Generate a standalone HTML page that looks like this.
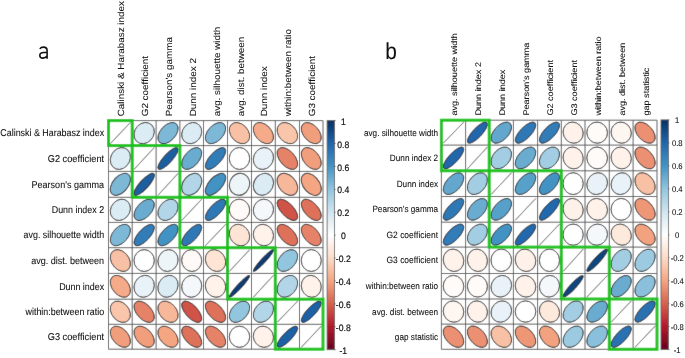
<!DOCTYPE html>
<html><head><meta charset="utf-8"><style>
html,body{margin:0;padding:0;background:#fff;}
body{width:685px;height:358px;overflow:hidden;}
svg{display:block;font-family:"Liberation Sans",sans-serif;font-variant-ligatures:none;font-kerning:none;will-change:transform;text-rendering:geometricPrecision;}
</style></head><body>
<svg width="685" height="358" viewBox="0 0 685 358">
<defs><filter id="bl" x="0" y="0" width="100%" height="100%"><feConvolveMatrix order="3" kernelMatrix="0 1 0 1 8 1 0 1 0" divisor="12" edgeMode="duplicate"/></filter></defs>
<g filter="url(#bl)"><rect width="685" height="358" fill="#fff"/>
<g stroke="#5c5c5c" stroke-width="1"><line x1="108.50" y1="120.60" x2="323.00" y2="120.60"/><line x1="108.50" y1="120.60" x2="108.50" y2="349.20"/><line x1="108.50" y1="145.60" x2="323.00" y2="145.60"/><line x1="132.20" y1="120.60" x2="132.20" y2="349.20"/><line x1="108.50" y1="171.40" x2="323.00" y2="171.40"/><line x1="156.10" y1="120.60" x2="156.10" y2="349.20"/><line x1="108.50" y1="197.30" x2="323.00" y2="197.30"/><line x1="179.90" y1="120.60" x2="179.90" y2="349.20"/><line x1="108.50" y1="222.40" x2="323.00" y2="222.40"/><line x1="203.50" y1="120.60" x2="203.50" y2="349.20"/><line x1="108.50" y1="247.70" x2="323.00" y2="247.70"/><line x1="227.50" y1="120.60" x2="227.50" y2="349.20"/><line x1="108.50" y1="273.40" x2="323.00" y2="273.40"/><line x1="251.50" y1="120.60" x2="251.50" y2="349.20"/><line x1="108.50" y1="299.20" x2="323.00" y2="299.20"/><line x1="275.30" y1="120.60" x2="275.30" y2="349.20"/><line x1="108.50" y1="324.30" x2="323.00" y2="324.30"/><line x1="299.50" y1="120.60" x2="299.50" y2="349.20"/><line x1="108.50" y1="349.20" x2="323.00" y2="349.20"/><line x1="323.00" y1="120.60" x2="323.00" y2="349.20"/></g>
<g stroke="#2a2a2a" stroke-width="1.0"><line x1="110.28" y1="143.72" x2="130.42" y2="122.47" stroke-width="0.8"/><ellipse rx="0.4558" ry="0.3918" fill="#dcecf4" vector-effect="non-scaling-stroke" transform="translate(144.15,133.10) scale(23.90,-25.00) rotate(45)"/><ellipse rx="0.5118" ry="0.3152" fill="#7eb8d7" vector-effect="non-scaling-stroke" transform="translate(168.00,133.10) scale(23.80,-25.00) rotate(45)"/><ellipse rx="0.4558" ry="0.3918" fill="#dcecf4" vector-effect="non-scaling-stroke" transform="translate(191.70,133.10) scale(23.60,-25.00) rotate(45)"/><ellipse rx="0.5118" ry="0.3152" fill="#7eb8d7" vector-effect="non-scaling-stroke" transform="translate(215.50,133.10) scale(24.00,-25.00) rotate(45)"/><ellipse rx="0.3556" ry="0.4846" fill="#f8c0a4" vector-effect="non-scaling-stroke" transform="translate(239.50,133.10) scale(24.00,-25.00) rotate(45)"/><ellipse rx="0.3346" ry="0.4993" fill="#f5aa89" vector-effect="non-scaling-stroke" transform="translate(263.40,133.10) scale(23.80,-25.00) rotate(45)"/><ellipse rx="0.3606" ry="0.4808" fill="#f9c5ab" vector-effect="non-scaling-stroke" transform="translate(287.40,133.10) scale(24.20,-25.00) rotate(45)"/><ellipse rx="0.3237" ry="0.5064" fill="#f19e7d" vector-effect="non-scaling-stroke" transform="translate(311.25,133.10) scale(23.50,-25.00) rotate(45)"/><ellipse rx="0.4558" ry="0.3918" fill="#dcecf4" vector-effect="non-scaling-stroke" transform="translate(120.35,158.50) scale(23.70,-25.80) rotate(45)"/><line x1="133.99" y1="169.47" x2="154.31" y2="147.53" stroke-width="0.8"/><ellipse rx="0.5749" ry="0.1752" fill="#1d5ea1" vector-effect="non-scaling-stroke" transform="translate(168.00,158.50) scale(23.80,-25.80) rotate(45)"/><ellipse rx="0.5205" ry="0.3005" fill="#6aacd0" vector-effect="non-scaling-stroke" transform="translate(191.70,158.50) scale(23.60,-25.80) rotate(45)"/><ellipse rx="0.5541" ry="0.2328" fill="#327cb8" vector-effect="non-scaling-stroke" transform="translate(215.50,158.50) scale(24.00,-25.80) rotate(45)"/><ellipse rx="0.4250" ry="0.4250" fill="#ffffff" vector-effect="non-scaling-stroke" transform="translate(239.50,158.50) scale(24.00,-25.80) rotate(45)"/><ellipse rx="0.4457" ry="0.4032" fill="#e8f2f8" vector-effect="non-scaling-stroke" transform="translate(263.40,158.50) scale(23.80,-25.80) rotate(45)"/><ellipse rx="0.3005" ry="0.5205" fill="#e58268" vector-effect="non-scaling-stroke" transform="translate(287.40,158.50) scale(24.20,-25.80) rotate(45)"/><ellipse rx="0.3237" ry="0.5064" fill="#f19e7d" vector-effect="non-scaling-stroke" transform="translate(311.25,158.50) scale(23.50,-25.80) rotate(45)"/><ellipse rx="0.5118" ry="0.3152" fill="#7eb8d7" vector-effect="non-scaling-stroke" transform="translate(120.35,184.35) scale(23.70,-25.90) rotate(45)"/><ellipse rx="0.5749" ry="0.1752" fill="#1d5ea1" vector-effect="non-scaling-stroke" transform="translate(144.15,184.35) scale(23.90,-25.90) rotate(45)"/><line x1="157.88" y1="195.36" x2="178.12" y2="173.34" stroke-width="0.8"/><ellipse rx="0.4846" ry="0.3556" fill="#b2d5e7" vector-effect="non-scaling-stroke" transform="translate(191.70,184.35) scale(23.60,-25.90) rotate(45)"/><ellipse rx="0.5376" ry="0.2688" fill="#4393c3" vector-effect="non-scaling-stroke" transform="translate(215.50,184.35) scale(24.00,-25.90) rotate(45)"/><ellipse rx="0.4417" ry="0.4076" fill="#edf5f9" vector-effect="non-scaling-stroke" transform="translate(239.50,184.35) scale(24.00,-25.90) rotate(45)"/><ellipse rx="0.4558" ry="0.3918" fill="#dcecf4" vector-effect="non-scaling-stroke" transform="translate(263.40,184.35) scale(23.80,-25.90) rotate(45)"/><ellipse rx="0.3479" ry="0.4901" fill="#f7b89a" vector-effect="non-scaling-stroke" transform="translate(287.40,184.35) scale(24.20,-25.90) rotate(45)"/><ellipse rx="0.3292" ry="0.5029" fill="#f4a582" vector-effect="non-scaling-stroke" transform="translate(311.25,184.35) scale(23.50,-25.90) rotate(45)"/><ellipse rx="0.4558" ry="0.3918" fill="#dcecf4" vector-effect="non-scaling-stroke" transform="translate(120.35,209.85) scale(23.70,-25.10) rotate(45)"/><ellipse rx="0.5205" ry="0.3005" fill="#6aacd0" vector-effect="non-scaling-stroke" transform="translate(144.15,209.85) scale(23.90,-25.10) rotate(45)"/><ellipse rx="0.4846" ry="0.3556" fill="#b2d5e7" vector-effect="non-scaling-stroke" transform="translate(168.00,209.85) scale(23.80,-25.10) rotate(45)"/><line x1="181.67" y1="220.52" x2="201.73" y2="199.18" stroke-width="0.8"/><ellipse rx="0.5574" ry="0.2249" fill="#2f78b5" vector-effect="non-scaling-stroke" transform="translate(215.50,209.85) scale(24.00,-25.10) rotate(45)"/><ellipse rx="0.4186" ry="0.4313" fill="#fffaf7" vector-effect="non-scaling-stroke" transform="translate(239.50,209.85) scale(24.00,-25.10) rotate(45)"/><ellipse rx="0.4355" ry="0.4142" fill="#f4f8fb" vector-effect="non-scaling-stroke" transform="translate(263.40,209.85) scale(23.80,-25.10) rotate(45)"/><ellipse rx="0.2550" ry="0.5443" fill="#cf5246" vector-effect="non-scaling-stroke" transform="translate(287.40,209.85) scale(24.20,-25.10) rotate(45)"/><ellipse rx="0.2851" ry="0.5291" fill="#de715a" vector-effect="non-scaling-stroke" transform="translate(311.25,209.85) scale(23.50,-25.10) rotate(45)"/><ellipse rx="0.5118" ry="0.3152" fill="#7eb8d7" vector-effect="non-scaling-stroke" transform="translate(120.35,235.05) scale(23.70,-25.30) rotate(45)"/><ellipse rx="0.5541" ry="0.2328" fill="#327cb8" vector-effect="non-scaling-stroke" transform="translate(144.15,235.05) scale(23.90,-25.30) rotate(45)"/><ellipse rx="0.5376" ry="0.2688" fill="#4393c3" vector-effect="non-scaling-stroke" transform="translate(168.00,235.05) scale(23.80,-25.30) rotate(45)"/><ellipse rx="0.5574" ry="0.2249" fill="#2f78b5" vector-effect="non-scaling-stroke" transform="translate(191.70,235.05) scale(23.60,-25.30) rotate(45)"/><line x1="205.30" y1="245.80" x2="225.70" y2="224.30" stroke-width="0.8"/><ellipse rx="0.3918" ry="0.4558" fill="#fee4d5" vector-effect="non-scaling-stroke" transform="translate(239.50,235.05) scale(24.00,-25.30) rotate(45)"/><ellipse rx="0.4099" ry="0.4396" fill="#fef2eb" vector-effect="non-scaling-stroke" transform="translate(263.40,235.05) scale(23.80,-25.30) rotate(45)"/><ellipse rx="0.2851" ry="0.5291" fill="#de715a" vector-effect="non-scaling-stroke" transform="translate(287.40,235.05) scale(24.20,-25.30) rotate(45)"/><ellipse rx="0.3005" ry="0.5205" fill="#e58268" vector-effect="non-scaling-stroke" transform="translate(311.25,235.05) scale(23.50,-25.30) rotate(45)"/><ellipse rx="0.3556" ry="0.4846" fill="#f8c0a4" vector-effect="non-scaling-stroke" transform="translate(120.35,260.55) scale(23.70,-25.70) rotate(45)"/><ellipse rx="0.4250" ry="0.4250" fill="#ffffff" vector-effect="non-scaling-stroke" transform="translate(144.15,260.55) scale(23.90,-25.70) rotate(45)"/><ellipse rx="0.4417" ry="0.4076" fill="#edf5f9" vector-effect="non-scaling-stroke" transform="translate(168.00,260.55) scale(23.80,-25.70) rotate(45)"/><ellipse rx="0.4186" ry="0.4313" fill="#fffaf7" vector-effect="non-scaling-stroke" transform="translate(191.70,260.55) scale(23.60,-25.70) rotate(45)"/><ellipse rx="0.3918" ry="0.4558" fill="#fee4d5" vector-effect="non-scaling-stroke" transform="translate(215.50,260.55) scale(24.00,-25.70) rotate(45)"/><line x1="229.30" y1="271.47" x2="249.70" y2="249.63" stroke-width="0.8"/><ellipse rx="0.5935" ry="0.0950" fill="#0c3e74" vector-effect="non-scaling-stroke" transform="translate(263.40,260.55) scale(23.80,-25.70) rotate(45)"/><ellipse rx="0.5029" ry="0.3292" fill="#92c5de" vector-effect="non-scaling-stroke" transform="translate(287.40,260.55) scale(24.20,-25.70) rotate(45)"/><ellipse rx="0.4250" ry="0.4250" fill="#ffffff" vector-effect="non-scaling-stroke" transform="translate(311.25,260.55) scale(23.50,-25.70) rotate(45)"/><ellipse rx="0.3346" ry="0.4993" fill="#f5aa89" vector-effect="non-scaling-stroke" transform="translate(120.35,286.30) scale(23.70,-25.80) rotate(45)"/><ellipse rx="0.4457" ry="0.4032" fill="#e8f2f8" vector-effect="non-scaling-stroke" transform="translate(144.15,286.30) scale(23.90,-25.80) rotate(45)"/><ellipse rx="0.4558" ry="0.3918" fill="#dcecf4" vector-effect="non-scaling-stroke" transform="translate(168.00,286.30) scale(23.80,-25.80) rotate(45)"/><ellipse rx="0.4355" ry="0.4142" fill="#f4f8fb" vector-effect="non-scaling-stroke" transform="translate(191.70,286.30) scale(23.60,-25.80) rotate(45)"/><ellipse rx="0.4099" ry="0.4396" fill="#fef2eb" vector-effect="non-scaling-stroke" transform="translate(215.50,286.30) scale(24.00,-25.80) rotate(45)"/><ellipse rx="0.5935" ry="0.0950" fill="#0c3e74" vector-effect="non-scaling-stroke" transform="translate(239.50,286.30) scale(24.00,-25.80) rotate(45)"/><line x1="253.28" y1="297.26" x2="273.51" y2="275.33" stroke-width="0.8"/><ellipse rx="0.4846" ry="0.3556" fill="#b2d5e7" vector-effect="non-scaling-stroke" transform="translate(287.40,286.30) scale(24.20,-25.80) rotate(45)"/><ellipse rx="0.4099" ry="0.4396" fill="#fef2eb" vector-effect="non-scaling-stroke" transform="translate(311.25,286.30) scale(23.50,-25.80) rotate(45)"/><ellipse rx="0.3606" ry="0.4808" fill="#f9c5ab" vector-effect="non-scaling-stroke" transform="translate(120.35,311.75) scale(23.70,-25.10) rotate(45)"/><ellipse rx="0.3005" ry="0.5205" fill="#e58268" vector-effect="non-scaling-stroke" transform="translate(144.15,311.75) scale(23.90,-25.10) rotate(45)"/><ellipse rx="0.3479" ry="0.4901" fill="#f7b89a" vector-effect="non-scaling-stroke" transform="translate(168.00,311.75) scale(23.80,-25.10) rotate(45)"/><ellipse rx="0.2550" ry="0.5443" fill="#cf5246" vector-effect="non-scaling-stroke" transform="translate(191.70,311.75) scale(23.60,-25.10) rotate(45)"/><ellipse rx="0.2851" ry="0.5291" fill="#de715a" vector-effect="non-scaling-stroke" transform="translate(215.50,311.75) scale(24.00,-25.10) rotate(45)"/><ellipse rx="0.5029" ry="0.3292" fill="#92c5de" vector-effect="non-scaling-stroke" transform="translate(239.50,311.75) scale(24.00,-25.10) rotate(45)"/><ellipse rx="0.4846" ry="0.3556" fill="#b2d5e7" vector-effect="non-scaling-stroke" transform="translate(263.40,311.75) scale(23.80,-25.10) rotate(45)"/><line x1="277.12" y1="322.42" x2="297.68" y2="301.08" stroke-width="0.8"/><ellipse rx="0.5734" ry="0.1803" fill="#1e61a5" vector-effect="non-scaling-stroke" transform="translate(311.25,311.75) scale(23.50,-25.10) rotate(45)"/><ellipse rx="0.3237" ry="0.5064" fill="#f19e7d" vector-effect="non-scaling-stroke" transform="translate(120.35,336.75) scale(23.70,-24.90) rotate(45)"/><ellipse rx="0.3237" ry="0.5064" fill="#f19e7d" vector-effect="non-scaling-stroke" transform="translate(144.15,336.75) scale(23.90,-24.90) rotate(45)"/><ellipse rx="0.3292" ry="0.5029" fill="#f4a582" vector-effect="non-scaling-stroke" transform="translate(168.00,336.75) scale(23.80,-24.90) rotate(45)"/><ellipse rx="0.2851" ry="0.5291" fill="#de715a" vector-effect="non-scaling-stroke" transform="translate(191.70,336.75) scale(23.60,-24.90) rotate(45)"/><ellipse rx="0.3005" ry="0.5205" fill="#e58268" vector-effect="non-scaling-stroke" transform="translate(215.50,336.75) scale(24.00,-24.90) rotate(45)"/><ellipse rx="0.4250" ry="0.4250" fill="#ffffff" vector-effect="non-scaling-stroke" transform="translate(239.50,336.75) scale(24.00,-24.90) rotate(45)"/><ellipse rx="0.4099" ry="0.4396" fill="#fef2eb" vector-effect="non-scaling-stroke" transform="translate(263.40,336.75) scale(23.80,-24.90) rotate(45)"/><ellipse rx="0.5734" ry="0.1803" fill="#1e61a5" vector-effect="non-scaling-stroke" transform="translate(287.40,336.75) scale(24.20,-24.90) rotate(45)"/><line x1="301.26" y1="347.33" x2="321.24" y2="326.17" stroke-width="0.8"/></g>
<g fill="none" stroke="#1ec21e" stroke-width="3.0"><rect x="108.50" y="120.60" width="23.70" height="25.00"/><rect x="132.20" y="145.60" width="47.70" height="51.70"/><rect x="179.90" y="197.30" width="47.60" height="50.40"/><rect x="227.50" y="247.70" width="47.80" height="51.50"/><rect x="275.30" y="299.20" width="47.70" height="50.00"/></g>
<g stroke="#5c5c5c" stroke-width="1"><line x1="441.40" y1="120.20" x2="657.00" y2="120.20"/><line x1="441.40" y1="120.20" x2="441.40" y2="349.30"/><line x1="441.40" y1="145.10" x2="657.00" y2="145.10"/><line x1="465.60" y1="120.20" x2="465.60" y2="349.30"/><line x1="441.40" y1="170.80" x2="657.00" y2="170.80"/><line x1="489.20" y1="120.20" x2="489.20" y2="349.30"/><line x1="441.40" y1="196.50" x2="657.00" y2="196.50"/><line x1="513.40" y1="120.20" x2="513.40" y2="349.30"/><line x1="441.40" y1="222.20" x2="657.00" y2="222.20"/><line x1="537.60" y1="120.20" x2="537.60" y2="349.30"/><line x1="441.40" y1="247.10" x2="657.00" y2="247.10"/><line x1="561.30" y1="120.20" x2="561.30" y2="349.30"/><line x1="441.40" y1="273.50" x2="657.00" y2="273.50"/><line x1="585.00" y1="120.20" x2="585.00" y2="349.30"/><line x1="441.40" y1="299.00" x2="657.00" y2="299.00"/><line x1="609.30" y1="120.20" x2="609.30" y2="349.30"/><line x1="441.40" y1="324.10" x2="657.00" y2="324.10"/><line x1="633.10" y1="120.20" x2="633.10" y2="349.30"/><line x1="441.40" y1="349.30" x2="657.00" y2="349.30"/><line x1="657.00" y1="120.20" x2="657.00" y2="349.30"/></g>
<g stroke="#2a2a2a" stroke-width="1.0"><line x1="443.21" y1="143.23" x2="463.79" y2="122.07" stroke-width="0.8"/><ellipse rx="0.5702" ry="0.1901" fill="#2166ac" vector-effect="non-scaling-stroke" transform="translate(477.40,132.65) scale(23.60,-24.90) rotate(45)"/><ellipse rx="0.5240" ry="0.2944" fill="#63a7ce" vector-effect="non-scaling-stroke" transform="translate(501.30,132.65) scale(24.20,-24.90) rotate(45)"/><ellipse rx="0.5574" ry="0.2249" fill="#2f78b5" vector-effect="non-scaling-stroke" transform="translate(525.50,132.65) scale(24.20,-24.90) rotate(45)"/><ellipse rx="0.5541" ry="0.2328" fill="#327cb8" vector-effect="non-scaling-stroke" transform="translate(549.45,132.65) scale(23.70,-24.90) rotate(45)"/><ellipse rx="0.4099" ry="0.4396" fill="#fef2eb" vector-effect="non-scaling-stroke" transform="translate(573.15,132.65) scale(23.70,-24.90) rotate(45)"/><ellipse rx="0.4207" ry="0.4292" fill="#fffbf9" vector-effect="non-scaling-stroke" transform="translate(597.15,132.65) scale(24.30,-24.90) rotate(45)"/><ellipse rx="0.4142" ry="0.4355" fill="#fef6f1" vector-effect="non-scaling-stroke" transform="translate(621.20,132.65) scale(23.80,-24.90) rotate(45)"/><ellipse rx="0.3123" ry="0.5135" fill="#eb9072" vector-effect="non-scaling-stroke" transform="translate(645.05,132.65) scale(23.90,-24.90) rotate(45)"/><ellipse rx="0.5702" ry="0.1901" fill="#2166ac" vector-effect="non-scaling-stroke" transform="translate(453.50,157.95) scale(24.20,-25.70) rotate(45)"/><line x1="467.37" y1="168.87" x2="487.43" y2="147.03" stroke-width="0.8"/><ellipse rx="0.4938" ry="0.3426" fill="#a2cde2" vector-effect="non-scaling-stroke" transform="translate(501.30,157.95) scale(24.20,-25.70) rotate(45)"/><ellipse rx="0.5205" ry="0.3005" fill="#6aacd0" vector-effect="non-scaling-stroke" transform="translate(525.50,157.95) scale(24.20,-25.70) rotate(45)"/><ellipse rx="0.4938" ry="0.3426" fill="#a2cde2" vector-effect="non-scaling-stroke" transform="translate(549.45,157.95) scale(23.70,-25.70) rotate(45)"/><ellipse rx="0.4099" ry="0.4396" fill="#fef2eb" vector-effect="non-scaling-stroke" transform="translate(573.15,157.95) scale(23.70,-25.70) rotate(45)"/><ellipse rx="0.4207" ry="0.4292" fill="#fffbf9" vector-effect="non-scaling-stroke" transform="translate(597.15,157.95) scale(24.30,-25.70) rotate(45)"/><ellipse rx="0.4099" ry="0.4396" fill="#fef2eb" vector-effect="non-scaling-stroke" transform="translate(621.20,157.95) scale(23.80,-25.70) rotate(45)"/><ellipse rx="0.3123" ry="0.5135" fill="#eb9072" vector-effect="non-scaling-stroke" transform="translate(645.05,157.95) scale(23.90,-25.70) rotate(45)"/><ellipse rx="0.5240" ry="0.2944" fill="#63a7ce" vector-effect="non-scaling-stroke" transform="translate(453.50,183.65) scale(24.20,-25.70) rotate(45)"/><ellipse rx="0.4938" ry="0.3426" fill="#a2cde2" vector-effect="non-scaling-stroke" transform="translate(477.40,183.65) scale(23.60,-25.70) rotate(45)"/><line x1="491.01" y1="194.57" x2="511.58" y2="172.73" stroke-width="0.8"/><ellipse rx="0.5291" ry="0.2851" fill="#57a0ca" vector-effect="non-scaling-stroke" transform="translate(525.50,183.65) scale(24.20,-25.70) rotate(45)"/><ellipse rx="0.5376" ry="0.2688" fill="#4393c3" vector-effect="non-scaling-stroke" transform="translate(549.45,183.65) scale(23.70,-25.70) rotate(45)"/><ellipse rx="0.4250" ry="0.4250" fill="#ffffff" vector-effect="non-scaling-stroke" transform="translate(573.15,183.65) scale(23.70,-25.70) rotate(45)"/><ellipse rx="0.4457" ry="0.4032" fill="#e8f2f8" vector-effect="non-scaling-stroke" transform="translate(597.15,183.65) scale(24.30,-25.70) rotate(45)"/><ellipse rx="0.4457" ry="0.4032" fill="#e8f2f8" vector-effect="non-scaling-stroke" transform="translate(621.20,183.65) scale(23.80,-25.70) rotate(45)"/><ellipse rx="0.3556" ry="0.4846" fill="#f8c0a4" vector-effect="non-scaling-stroke" transform="translate(645.05,183.65) scale(23.90,-25.70) rotate(45)"/><ellipse rx="0.5574" ry="0.2249" fill="#2f78b5" vector-effect="non-scaling-stroke" transform="translate(453.50,209.35) scale(24.20,-25.70) rotate(45)"/><ellipse rx="0.5205" ry="0.3005" fill="#6aacd0" vector-effect="non-scaling-stroke" transform="translate(477.40,209.35) scale(23.60,-25.70) rotate(45)"/><ellipse rx="0.5291" ry="0.2851" fill="#57a0ca" vector-effect="non-scaling-stroke" transform="translate(501.30,209.35) scale(24.20,-25.70) rotate(45)"/><line x1="515.22" y1="220.27" x2="535.78" y2="198.43" stroke-width="0.8"/><ellipse rx="0.5686" ry="0.1948" fill="#2368ad" vector-effect="non-scaling-stroke" transform="translate(549.45,209.35) scale(23.70,-25.70) rotate(45)"/><ellipse rx="0.4076" ry="0.4417" fill="#fef1e9" vector-effect="non-scaling-stroke" transform="translate(573.15,209.35) scale(23.70,-25.70) rotate(45)"/><ellipse rx="0.4099" ry="0.4396" fill="#fef2eb" vector-effect="non-scaling-stroke" transform="translate(597.15,209.35) scale(24.30,-25.70) rotate(45)"/><ellipse rx="0.4250" ry="0.4250" fill="#ffffff" vector-effect="non-scaling-stroke" transform="translate(621.20,209.35) scale(23.80,-25.70) rotate(45)"/><ellipse rx="0.3180" ry="0.5100" fill="#ee9777" vector-effect="non-scaling-stroke" transform="translate(645.05,209.35) scale(23.90,-25.70) rotate(45)"/><ellipse rx="0.5541" ry="0.2328" fill="#327cb8" vector-effect="non-scaling-stroke" transform="translate(453.50,234.65) scale(24.20,-24.90) rotate(45)"/><ellipse rx="0.4938" ry="0.3426" fill="#a2cde2" vector-effect="non-scaling-stroke" transform="translate(477.40,234.65) scale(23.60,-24.90) rotate(45)"/><ellipse rx="0.5376" ry="0.2688" fill="#4393c3" vector-effect="non-scaling-stroke" transform="translate(501.30,234.65) scale(24.20,-24.90) rotate(45)"/><ellipse rx="0.5686" ry="0.1948" fill="#2368ad" vector-effect="non-scaling-stroke" transform="translate(525.50,234.65) scale(24.20,-24.90) rotate(45)"/><line x1="539.38" y1="245.23" x2="559.52" y2="224.07" stroke-width="0.8"/><ellipse rx="0.4250" ry="0.4250" fill="#ffffff" vector-effect="non-scaling-stroke" transform="translate(573.15,234.65) scale(23.70,-24.90) rotate(45)"/><ellipse rx="0.4355" ry="0.4142" fill="#f4f8fb" vector-effect="non-scaling-stroke" transform="translate(597.15,234.65) scale(24.30,-24.90) rotate(45)"/><ellipse rx="0.3987" ry="0.4498" fill="#fee9dd" vector-effect="non-scaling-stroke" transform="translate(621.20,234.65) scale(23.80,-24.90) rotate(45)"/><ellipse rx="0.3264" ry="0.5047" fill="#f2a27f" vector-effect="non-scaling-stroke" transform="translate(645.05,234.65) scale(23.90,-24.90) rotate(45)"/><ellipse rx="0.4099" ry="0.4396" fill="#fef2eb" vector-effect="non-scaling-stroke" transform="translate(453.50,260.30) scale(24.20,-26.40) rotate(45)"/><ellipse rx="0.4099" ry="0.4396" fill="#fef2eb" vector-effect="non-scaling-stroke" transform="translate(477.40,260.30) scale(23.60,-26.40) rotate(45)"/><ellipse rx="0.4250" ry="0.4250" fill="#ffffff" vector-effect="non-scaling-stroke" transform="translate(501.30,260.30) scale(24.20,-26.40) rotate(45)"/><ellipse rx="0.4076" ry="0.4417" fill="#fef1e9" vector-effect="non-scaling-stroke" transform="translate(525.50,260.30) scale(24.20,-26.40) rotate(45)"/><ellipse rx="0.4250" ry="0.4250" fill="#ffffff" vector-effect="non-scaling-stroke" transform="translate(549.45,260.30) scale(23.70,-26.40) rotate(45)"/><line x1="563.08" y1="271.52" x2="583.22" y2="249.08" stroke-width="0.8"/><ellipse rx="0.5889" ry="0.1202" fill="#10467f" vector-effect="non-scaling-stroke" transform="translate(597.15,260.30) scale(24.30,-26.40) rotate(45)"/><ellipse rx="0.4938" ry="0.3426" fill="#a2cde2" vector-effect="non-scaling-stroke" transform="translate(621.20,260.30) scale(23.80,-26.40) rotate(45)"/><ellipse rx="0.4974" ry="0.3373" fill="#9bcae1" vector-effect="non-scaling-stroke" transform="translate(645.05,260.30) scale(23.90,-26.40) rotate(45)"/><ellipse rx="0.4207" ry="0.4292" fill="#fffbf9" vector-effect="non-scaling-stroke" transform="translate(453.50,286.25) scale(24.20,-25.50) rotate(45)"/><ellipse rx="0.4207" ry="0.4292" fill="#fffbf9" vector-effect="non-scaling-stroke" transform="translate(477.40,286.25) scale(23.60,-25.50) rotate(45)"/><ellipse rx="0.4457" ry="0.4032" fill="#e8f2f8" vector-effect="non-scaling-stroke" transform="translate(501.30,286.25) scale(24.20,-25.50) rotate(45)"/><ellipse rx="0.4099" ry="0.4396" fill="#fef2eb" vector-effect="non-scaling-stroke" transform="translate(525.50,286.25) scale(24.20,-25.50) rotate(45)"/><ellipse rx="0.4355" ry="0.4142" fill="#f4f8fb" vector-effect="non-scaling-stroke" transform="translate(549.45,286.25) scale(23.70,-25.50) rotate(45)"/><ellipse rx="0.5889" ry="0.1202" fill="#10467f" vector-effect="non-scaling-stroke" transform="translate(573.15,286.25) scale(23.70,-25.50) rotate(45)"/><line x1="586.82" y1="297.09" x2="607.48" y2="275.41" stroke-width="0.8"/><ellipse rx="0.5205" ry="0.3005" fill="#6aacd0" vector-effect="non-scaling-stroke" transform="translate(621.20,286.25) scale(23.80,-25.50) rotate(45)"/><ellipse rx="0.5064" ry="0.3237" fill="#8ac0db" vector-effect="non-scaling-stroke" transform="translate(645.05,286.25) scale(23.90,-25.50) rotate(45)"/><ellipse rx="0.4142" ry="0.4355" fill="#fef6f1" vector-effect="non-scaling-stroke" transform="translate(453.50,311.55) scale(24.20,-25.10) rotate(45)"/><ellipse rx="0.4099" ry="0.4396" fill="#fef2eb" vector-effect="non-scaling-stroke" transform="translate(477.40,311.55) scale(23.60,-25.10) rotate(45)"/><ellipse rx="0.4457" ry="0.4032" fill="#e8f2f8" vector-effect="non-scaling-stroke" transform="translate(501.30,311.55) scale(24.20,-25.10) rotate(45)"/><ellipse rx="0.4250" ry="0.4250" fill="#ffffff" vector-effect="non-scaling-stroke" transform="translate(525.50,311.55) scale(24.20,-25.10) rotate(45)"/><ellipse rx="0.3987" ry="0.4498" fill="#fee9dd" vector-effect="non-scaling-stroke" transform="translate(549.45,311.55) scale(23.70,-25.10) rotate(45)"/><ellipse rx="0.4938" ry="0.3426" fill="#a2cde2" vector-effect="non-scaling-stroke" transform="translate(573.15,311.55) scale(23.70,-25.10) rotate(45)"/><ellipse rx="0.5205" ry="0.3005" fill="#6aacd0" vector-effect="non-scaling-stroke" transform="translate(597.15,311.55) scale(24.30,-25.10) rotate(45)"/><line x1="611.09" y1="322.22" x2="631.32" y2="300.88" stroke-width="0.8"/><ellipse rx="0.5622" ry="0.2125" fill="#2a71b2" vector-effect="non-scaling-stroke" transform="translate(645.05,311.55) scale(23.90,-25.10) rotate(45)"/><ellipse rx="0.3123" ry="0.5135" fill="#eb9072" vector-effect="non-scaling-stroke" transform="translate(453.50,336.70) scale(24.20,-25.20) rotate(45)"/><ellipse rx="0.3123" ry="0.5135" fill="#eb9072" vector-effect="non-scaling-stroke" transform="translate(477.40,336.70) scale(23.60,-25.20) rotate(45)"/><ellipse rx="0.3556" ry="0.4846" fill="#f8c0a4" vector-effect="non-scaling-stroke" transform="translate(501.30,336.70) scale(24.20,-25.20) rotate(45)"/><ellipse rx="0.3180" ry="0.5100" fill="#ee9777" vector-effect="non-scaling-stroke" transform="translate(525.50,336.70) scale(24.20,-25.20) rotate(45)"/><ellipse rx="0.3264" ry="0.5047" fill="#f2a27f" vector-effect="non-scaling-stroke" transform="translate(549.45,336.70) scale(23.70,-25.20) rotate(45)"/><ellipse rx="0.4974" ry="0.3373" fill="#9bcae1" vector-effect="non-scaling-stroke" transform="translate(573.15,336.70) scale(23.70,-25.20) rotate(45)"/><ellipse rx="0.5064" ry="0.3237" fill="#8ac0db" vector-effect="non-scaling-stroke" transform="translate(597.15,336.70) scale(24.30,-25.20) rotate(45)"/><ellipse rx="0.5622" ry="0.2125" fill="#2a71b2" vector-effect="non-scaling-stroke" transform="translate(621.20,336.70) scale(23.80,-25.20) rotate(45)"/><line x1="634.89" y1="347.41" x2="655.21" y2="325.99" stroke-width="0.8"/></g>
<g fill="none" stroke="#1ec21e" stroke-width="3.0"><rect x="441.40" y="120.20" width="47.80" height="50.60"/><rect x="489.20" y="170.80" width="72.10" height="76.30"/><rect x="561.30" y="247.10" width="48.00" height="51.90"/><rect x="609.30" y="299.00" width="47.70" height="50.30"/></g>
<defs><linearGradient id="cbL" x1="0" y1="0" x2="0" y2="1"><stop offset="0.0" stop-color="#053061"/><stop offset="0.1" stop-color="#2166AC"/><stop offset="0.2" stop-color="#4393C3"/><stop offset="0.3" stop-color="#92C5DE"/><stop offset="0.4" stop-color="#D1E5F0"/><stop offset="0.5" stop-color="#FFFFFF"/><stop offset="0.6" stop-color="#FDDBC7"/><stop offset="0.7" stop-color="#F4A582"/><stop offset="0.8" stop-color="#D6604D"/><stop offset="0.9" stop-color="#B2182B"/><stop offset="1.0" stop-color="#67001F"/></linearGradient></defs>
<rect x="327.10" y="120.60" width="7.50" height="229.10" fill="url(#cbL)" stroke="#555" stroke-width="0.8"/>
<g stroke="#333" stroke-width="0.8"><line x1="334.60" y1="120.60" x2="335.60" y2="120.60"/><line x1="334.60" y1="143.51" x2="335.60" y2="143.51"/><line x1="334.60" y1="166.42" x2="335.60" y2="166.42"/><line x1="334.60" y1="189.33" x2="335.60" y2="189.33"/><line x1="334.60" y1="212.24" x2="335.60" y2="212.24"/><line x1="334.60" y1="235.15" x2="335.60" y2="235.15"/><line x1="334.60" y1="258.06" x2="335.60" y2="258.06"/><line x1="334.60" y1="280.97" x2="335.60" y2="280.97"/><line x1="334.60" y1="303.88" x2="335.60" y2="303.88"/><line x1="334.60" y1="326.79" x2="335.60" y2="326.79"/><line x1="334.60" y1="349.70" x2="335.60" y2="349.70"/></g>
<defs><linearGradient id="cbR" x1="0" y1="0" x2="0" y2="1"><stop offset="0.0" stop-color="#053061"/><stop offset="0.1" stop-color="#2166AC"/><stop offset="0.2" stop-color="#4393C3"/><stop offset="0.3" stop-color="#92C5DE"/><stop offset="0.4" stop-color="#D1E5F0"/><stop offset="0.5" stop-color="#FFFFFF"/><stop offset="0.6" stop-color="#FDDBC7"/><stop offset="0.7" stop-color="#F4A582"/><stop offset="0.8" stop-color="#D6604D"/><stop offset="0.9" stop-color="#B2182B"/><stop offset="1.0" stop-color="#67001F"/></linearGradient></defs>
<rect x="661.00" y="119.90" width="7.40" height="229.70" fill="url(#cbR)" stroke="#555" stroke-width="0.8"/>
<g stroke="#333" stroke-width="0.8"><line x1="668.40" y1="119.90" x2="669.40" y2="119.90"/><line x1="668.40" y1="142.87" x2="669.40" y2="142.87"/><line x1="668.40" y1="165.84" x2="669.40" y2="165.84"/><line x1="668.40" y1="188.81" x2="669.40" y2="188.81"/><line x1="668.40" y1="211.78" x2="669.40" y2="211.78"/><line x1="668.40" y1="234.75" x2="669.40" y2="234.75"/><line x1="668.40" y1="257.72" x2="669.40" y2="257.72"/><line x1="668.40" y1="280.69" x2="669.40" y2="280.69"/><line x1="668.40" y1="303.66" x2="669.40" y2="303.66"/><line x1="668.40" y1="326.63" x2="669.40" y2="326.63"/><line x1="668.40" y1="349.60" x2="669.40" y2="349.60"/></g>
</g>
<g fill="#111" stroke="#111" stroke-width="0.08">
<g font-size="9.9"><text transform="translate(104.10,136.40) scale(0.9000,1)" text-anchor="end">Calinski &amp; Harabasz index</text><text transform="translate(104.10,161.80) scale(0.9333,1)" text-anchor="end">G2 coefficient</text><text transform="translate(104.10,187.65) scale(0.9162,1)" text-anchor="end">Pearson&#39;s gamma</text><text transform="translate(104.10,213.15) scale(0.9000,1)" text-anchor="end">Dunn index 2</text><text transform="translate(104.10,238.35) scale(0.9000,1)" text-anchor="end">avg. silhouette width</text><text transform="translate(104.10,263.85) scale(0.9162,1)" text-anchor="end">avg. dist. between</text><text transform="translate(104.10,289.60) scale(0.9000,1)" text-anchor="end">Dunn index</text><text transform="translate(104.10,315.05) scale(0.9000,1)" text-anchor="end">within:between ratio</text><text transform="translate(104.10,340.05) scale(0.9333,1)" text-anchor="end">G3 coefficient</text><text transform="translate(124.35,116.30) scale(0.9,1.0) rotate(-90)">Calinski &amp; Harabasz index</text><text transform="translate(148.15,116.30) scale(0.9,1.0) rotate(-90)">G2 coefficient</text><text transform="translate(172.00,116.30) scale(0.9,1.0) rotate(-90)">Pearson&#39;s gamma</text><text transform="translate(195.70,116.30) scale(0.9,1.0) rotate(-90)">Dunn index 2</text><text transform="translate(219.50,116.30) scale(0.9,1.0) rotate(-90)">avg. silhouette width</text><text transform="translate(243.50,116.30) scale(0.9,1.0) rotate(-90)">avg. dist. between</text><text transform="translate(267.40,116.30) scale(0.9,1.0) rotate(-90)">Dunn index</text><text transform="translate(291.40,116.30) scale(0.9,1.0) rotate(-90)">within:between ratio</text><text transform="translate(315.25,116.30) scale(0.9,1.0) rotate(-90)">G3 coefficient</text></g>
<g font-size="9.1"><text transform="translate(438.10,135.75) scale(0.9000,1)" text-anchor="end">avg. silhouette width</text><text transform="translate(438.10,161.05) scale(0.9000,1)" text-anchor="end">Dunn index 2</text><text transform="translate(438.10,186.75) scale(0.9000,1)" text-anchor="end">Dunn index</text><text transform="translate(438.10,212.45) scale(0.9000,1)" text-anchor="end">Pearson&#39;s gamma</text><text transform="translate(438.10,237.75) scale(0.9270,1)" text-anchor="end">G2 coefficient</text><text transform="translate(438.10,263.40) scale(0.9270,1)" text-anchor="end">G3 coefficient</text><text transform="translate(438.10,289.35) scale(0.9000,1)" text-anchor="end">within:between ratio</text><text transform="translate(438.10,314.65) scale(0.9000,1)" text-anchor="end">avg. dist. between</text><text transform="translate(438.10,339.80) scale(0.9000,1)" text-anchor="end">gap statistic</text><text transform="translate(457.30,115.60) scale(0.9,1.0) rotate(-90)">avg. silhouette width</text><text transform="translate(481.20,115.60) scale(0.9,1.0) rotate(-90)">Dunn index 2</text><text transform="translate(505.10,115.60) scale(0.9,1.0) rotate(-90)">Dunn index</text><text transform="translate(529.30,115.60) scale(0.9,1.0) rotate(-90)">Pearson&#39;s gamma</text><text transform="translate(553.25,115.60) scale(0.9,1.0) rotate(-90)">G2 coefficient</text><text transform="translate(576.95,115.60) scale(0.9,1.0) rotate(-90)">G3 coefficient</text><text transform="translate(600.95,115.60) scale(0.9,0.985) rotate(-90)">within:between ratio</text><text transform="translate(625.00,115.60) scale(0.9,0.993) rotate(-90)">avg. dist. between</text><text transform="translate(648.85,115.60) scale(0.9,1.0) rotate(-90)">gap statistic</text></g>
<g font-size="9.4" stroke-width="0.2"><text transform="translate(343.30,124.68) scale(0.92,1)" text-anchor="middle">1</text><text transform="translate(343.30,147.59) scale(0.92,1)" text-anchor="middle">0.8</text><text transform="translate(343.30,170.50) scale(0.92,1)" text-anchor="middle">0.6</text><text transform="translate(343.30,193.41) scale(0.92,1)" text-anchor="middle">0.4</text><text transform="translate(343.30,216.32) scale(0.92,1)" text-anchor="middle">0.2</text><text transform="translate(343.30,239.23) scale(0.92,1)" text-anchor="middle">0</text><text transform="translate(343.30,262.14) scale(0.92,1)" text-anchor="middle">-0.2</text><text transform="translate(343.30,285.05) scale(0.92,1)" text-anchor="middle">-0.4</text><text transform="translate(343.30,307.96) scale(0.92,1)" text-anchor="middle">-0.6</text><text transform="translate(343.30,330.87) scale(0.92,1)" text-anchor="middle">-0.8</text><text transform="translate(343.30,353.78) scale(0.92,1)" text-anchor="middle">-1</text></g>
<g font-size="8.3" stroke-width="0.1"><text transform="translate(677.20,123.29) scale(0.92,1)" text-anchor="middle">1</text><text transform="translate(677.20,146.26) scale(0.92,1)" text-anchor="middle">0.8</text><text transform="translate(677.20,169.23) scale(0.92,1)" text-anchor="middle">0.6</text><text transform="translate(677.20,192.20) scale(0.92,1)" text-anchor="middle">0.4</text><text transform="translate(677.20,215.17) scale(0.92,1)" text-anchor="middle">0.2</text><text transform="translate(677.20,238.14) scale(0.92,1)" text-anchor="middle">0</text><text transform="translate(677.20,261.11) scale(0.92,1)" text-anchor="middle">-0.2</text><text transform="translate(677.20,284.08) scale(0.92,1)" text-anchor="middle">-0.4</text><text transform="translate(677.20,307.05) scale(0.92,1)" text-anchor="middle">-0.6</text><text transform="translate(677.20,330.02) scale(0.92,1)" text-anchor="middle">-0.8</text><text transform="translate(677.20,352.99) scale(0.92,1)" text-anchor="middle">-1</text></g>
<path d="M39.8 48.9C40.6 47.6 41.9 47.1 43.4 47.1C45.8 47.1 47.1 48.2 47.1 50.4L47.1 58.8M47.1 52.4L43.8 52.4C41.3 52.4 39.8 53.6 39.8 55.4C39.8 57.1 41 58.1 42.9 58.1C44.7 58.1 46.1 57.3 47.1 56.1" fill="none" stroke="#111" stroke-width="1.55"/>
<text transform="translate(385.3,58.5) scale(0.9,1)" font-size="23.2">b</text>
</g>
</svg>
</body></html>
